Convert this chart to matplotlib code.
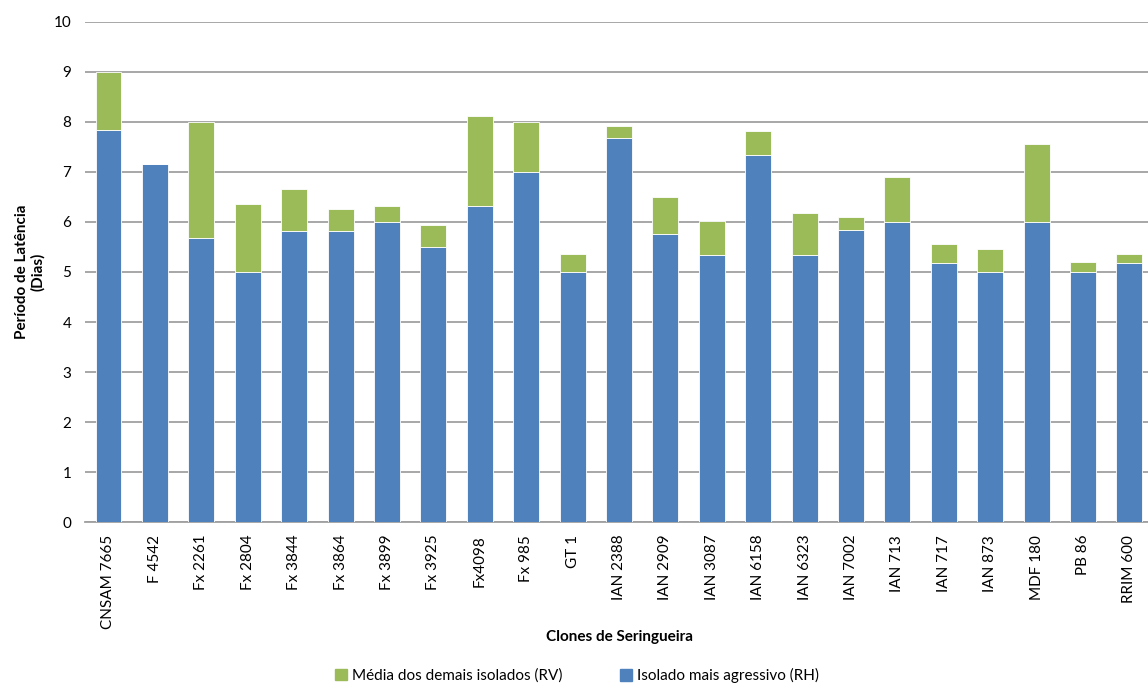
import matplotlib
matplotlib.use("Agg")
import matplotlib.pyplot as plt
import numpy as np
from matplotlib.patches import Patch

plt.rcParams['font.family'] = ['Lato', 'DejaVu Sans']

clones = ['CNSAM 7665', 'F 4542', 'Fx 2261', 'Fx 2804', 'Fx 3844', 'Fx 3864', 'Fx 3899',
          'Fx 3925', 'Fx4098', 'Fx 985', 'GT 1', 'IAN 2388', 'IAN 2909', 'IAN 3087',
          'IAN 6158', 'IAN 6323', 'IAN 7002', 'IAN 713', 'IAN 717', 'IAN 873',
          'MDF 180', 'PB 86', 'RRIM 600']
# isolado mais agressivo (RH) - parte azul
rh = [7.83, 7.16, 5.67, 5.00, 5.82, 5.82, 6.00, 5.50, 6.32, 6.99, 5.00, 7.67,
      5.75, 5.33, 7.34, 5.33, 5.83, 6.00, 5.18, 5.00, 6.00, 5.00, 5.18]
# media dos demais isolados (RV) - acrescimo verde empilhado
rv = [1.17, 0.00, 2.33, 1.35, 0.84, 0.44, 0.32, 0.44, 1.79, 1.01, 0.35, 0.24,
      0.74, 0.69, 0.47, 0.84, 0.26, 0.89, 0.37, 0.45, 1.55, 0.20, 0.17]

azul = '#4F81BD'
verde = '#9BBB59'

fig = plt.figure(figsize=(11.48, 6.84), dpi=100)
ax = fig.add_axes([0.0743, 0.2364, 0.9297, 0.7319])

x = np.arange(len(clones))
ax.bar(x, rh, width=0.56, color=azul, edgecolor='white', linewidth=0.6, zorder=3)
ax.bar(x, rv, bottom=rh, width=0.56, color=verde, edgecolor='white', linewidth=0.6, zorder=3)

ax.set_xlim(-0.5, len(clones) - 0.5)
ax.set_ylim(0, 10)
ax.set_yticks(range(0, 11))
ax.yaxis.grid(True, color='#a0a0a0', linewidth=1.3, zorder=0)
ax.set_axisbelow(True)
for s in ['top', 'right', 'left']:
    ax.spines[s].set_visible(False)
ax.spines['bottom'].set_color('#a0a0a0')
ax.spines['bottom'].set_linewidth(1.3)

ax.set_xticks(x)
ax.set_xticklabels(clones, rotation=90, fontsize=11)
ax.tick_params(axis='x', length=0, pad=9)
ax.tick_params(axis='y', length=0, pad=10, labelsize=11)

ax.set_ylabel('Período de Latência\n(Dias)', fontsize=11, fontweight='bold', labelpad=6)
fig.text(0.540, 0.068, 'Clones de Seringueira', ha='center', va='center',
         fontsize=11, fontweight='bold')

# legenda: duas entradas lado a lado
leg1 = fig.legend(handles=[Patch(color=verde, label='Média dos demais isolados (RV)')],
                  loc='center left', bbox_to_anchor=(0.292, 0.012), frameon=False,
                  fontsize=11, handlelength=0.8, handleheight=0.8, handletextpad=0.3,
                  borderpad=0, borderaxespad=0)
leg2 = fig.legend(handles=[Patch(color=azul, label='Isolado mais agressivo (RH)')],
                  loc='center left', bbox_to_anchor=(0.540, 0.012), frameon=False,
                  fontsize=11, handlelength=0.8, handleheight=0.8, handletextpad=0.3,
                  borderpad=0, borderaxespad=0)

fig.savefig('out.png', dpi=100)
